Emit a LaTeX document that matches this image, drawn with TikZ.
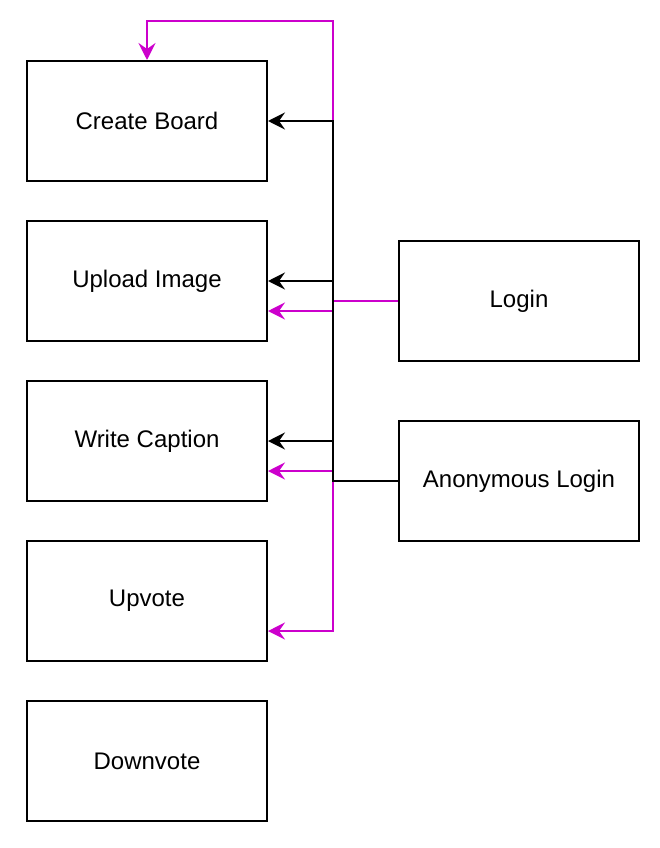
\documentclass[tikz,border=0pt]{standalone}
\usepackage{fontspec}
\setmainfont{Liberation Sans}
\usetikzlibrary{arrows.meta}
\definecolor{mag}{HTML}{CC00CC}
\begin{document}
\begin{tikzpicture}[x=1pt,y=-1pt,
  box/.style={draw,line width=2pt,minimum width=240pt,minimum height=120pt,inner sep=0pt,font=\fontsize{24}{28}\selectfont},
  blk/.style={line width=2pt,-{Stealth[length=17pt,width=17pt,inset=6pt]}},
  mg/.style={blk,draw=mag}]
\useasboundingbox (0,0) rectangle (660,848);
\node[box] (cb) at (147,121) {Create Board};
\node[box] (ui) at (147,281) {Upload Image};
\node[box] (wc) at (147,441) {Write Caption};
\node[box] (uv) at (147,601) {Upvote};
\node[box] (dv) at (147,761) {Downvote};
\node[box] (lg) at (519,301) {Login};
\node[box] (al) at (519,481) {Anonymous Login};
\coordinate (top) at (333,21);
% magenta
\draw[mg] (lg.west) -- (333,301) -- (top) -| (cb.north);
\draw[mg] (333,301) |- ([yshift=-30pt]ui.east);
\draw[mg] (333,301) |- ([yshift=-30pt]wc.east);
\draw[mg] (333,301) |- ([yshift=-30pt]uv.east);
% black
\draw[blk] (al.west) -- (333,481) |- (cb.east);
\draw[blk] (333,481) |- (ui.east);
\draw[blk] (333,481) |- (wc.east);
\end{tikzpicture}
\end{document}
